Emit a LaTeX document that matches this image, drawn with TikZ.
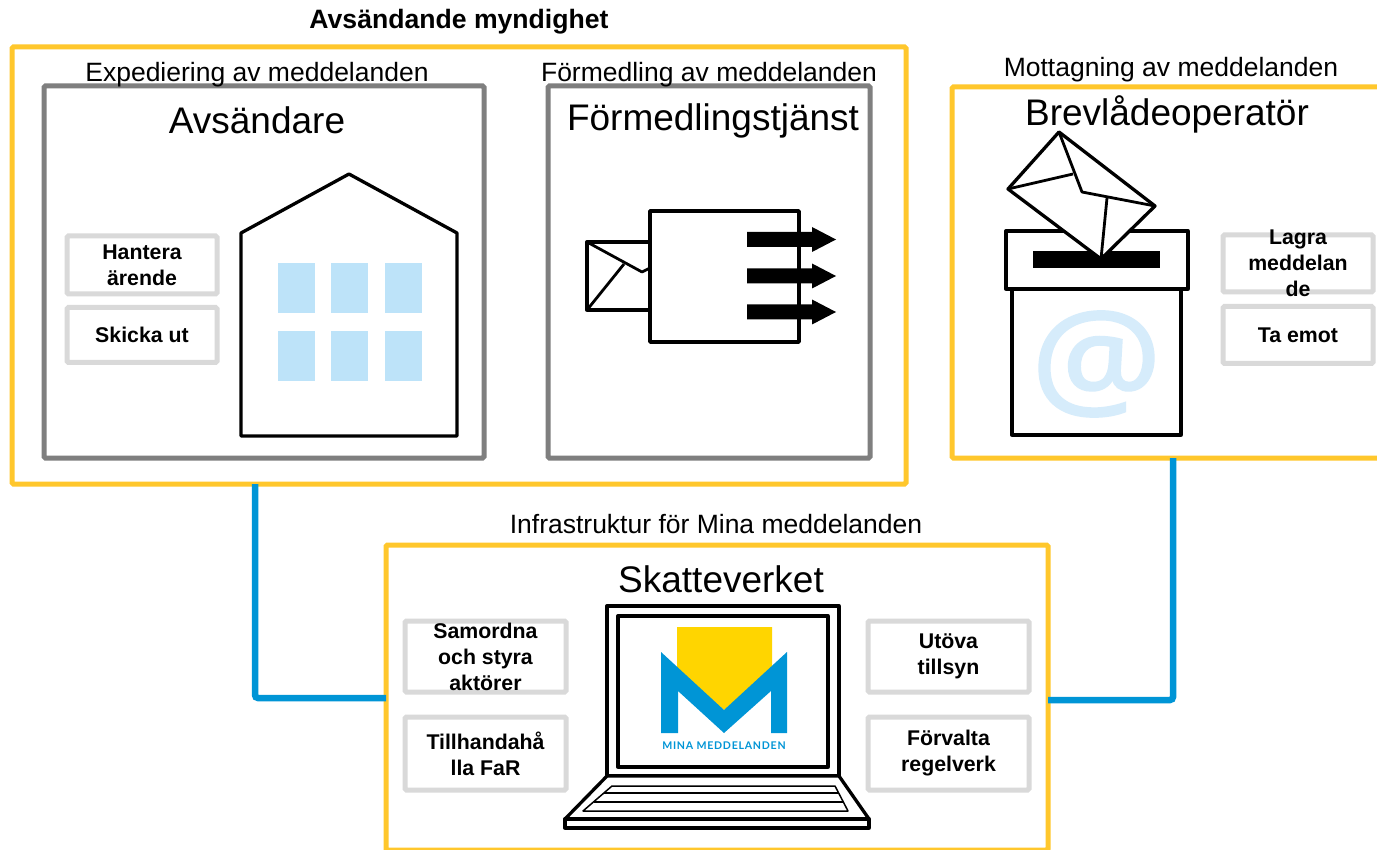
\documentclass[tikz,border=0pt]{standalone}
\usepackage{fontspec}
\setmainfont{Liberation Sans}
\newfontfamily\logofont[LetterSpace=7]{Lato}
\newfontfamily\atfont[FakeBold=1.6]{Open Sans}
\definecolor{frameY}{HTML}{FFC72C}
\definecolor{frameG}{HTML}{7F7F7F}
\definecolor{boxG}{HTML}{D9D9D9}
\definecolor{wireB}{HTML}{0095D6}
\definecolor{winB}{HTML}{BDE3F9}
\definecolor{atB}{HTML}{D6ECFB}
\definecolor{logoY}{HTML}{FFD500}
\tikzset{
  frameyellow/.style={draw=frameY,line width=5pt,rounded corners=1.5pt,inner sep=0pt},
  framegray/.style={draw=frameG,line width=5pt,rounded corners=1.5pt,inner sep=0pt},
  taskbox/.style={draw=boxG,line width=5pt,rounded corners=1.5pt,inner xsep=0pt,inner ysep=-20pt,align=center,
    font=\fontsize{21.3}{26}\selectfont\bfseries},
  wire/.style={draw=wireB,line width=6.5pt,rounded corners=3pt},
  caption/.style={inner sep=0pt,font=\fontsize{26.5}{30}\selectfont},
  heading/.style={inner sep=0pt,font=\fontsize{37}{42}\selectfont},
  ink/.style={draw=black,line width=3.3pt,line join=round,fill=white},
  thinink/.style={draw=black,line width=2pt,line join=round},
  window/.style={fill=winB},
}
\begin{document}
\begin{tikzpicture}[x=1pt,y=-1pt]
\useasboundingbox (0,0) rectangle (1377,850);
\clip (0,0) rectangle (1377,850);
\fill[white] (0,0) rectangle (1377,850);

% frames
\node[frameyellow,minimum width=894pt,minimum height=437pt] (sender) at (459,265.5) {};
\node[framegray,minimum width=440pt,minimum height=372pt] (avs) at (264,272) {};
\node[framegray,minimum width=322pt,minimum height=372pt] (form) at (709,272) {};
\node[frameyellow,minimum width=500pt,minimum height=371pt] (brev) at (1202,272.5) {};
\node[frameyellow,minimum width=662pt,minimum height=305pt] (infra) at (717,697.5) {};

% connectors
\coordinate (senderOut) at (255,484);
\coordinate (brevOut) at (1173,458);
\coordinate (infraL) at (386,698);
\coordinate (infraR) at (1048,700);
\draw[wire] (senderOut) |- (infraL);
\draw[wire] (brevOut) |- (infraR);

% captions
\node[inner sep=0pt,font=\fontsize{26.6}{30}\selectfont\bfseries] (ttl) at (459,22) {Avsändande myndighet};
\node[caption] (c1) at (257,74.5) {Expediering av meddelanden};
\node[caption] (c2) at (709,74.5) {Förmedling av meddelanden};
\node[caption] (c3) at (1171,70) {Mottagning av meddelanden};
\node[caption] (c4) at (716,524.5) {Infrastruktur för Mina meddelanden};
\node[heading] (h1) at (257,120) {Avsändare};
\node[heading] (h2) at (713,121) {Förmedlingstjänst};
\node[heading] (h3) at (1167,114) {Brevlådeoperatör};
\node[heading] (h4) at (721,579) {Skatteverket};

% task boxes
\node[taskbox,minimum width=150pt,minimum height=58pt] (t1) at (142,265) {Hantera\\ärende};
\node[taskbox,minimum width=150pt,minimum height=55pt] (t2) at (142,335) {Skicka ut};
\node[taskbox,minimum width=150pt,minimum height=57pt] (t3) at (1298,263.5) {Lagra\\meddelan\\de};
\node[taskbox,minimum width=150pt,minimum height=57pt] (t4) at (1298,335) {Ta emot};
\node[taskbox,minimum width=161pt,minimum height=71pt] (t5) at (485.5,656.5) {Samordna\\och styra\\aktörer};
\node[taskbox,minimum width=161pt,minimum height=73pt] (t6) at (485.5,753.5) {Tillhandahå\\lla FaR};
\node[taskbox,minimum width=161pt,minimum height=71pt] (t7) at (948.5,656.5) {Utöva\\tillsyn};
\node[taskbox,minimum width=161pt,minimum height=73pt] (t8) at (948.5,753.5) {Förvalta\\regelverk};

% house
\draw[ink] (241,233) -- (349,174) -- (457,233) -- (457,436) -- (241,436) -- cycle;
\foreach \wx in {278,331,385}{
  \fill[window] (\wx,263) rectangle +(37,50);
  \fill[window] (\wx,331) rectangle +(37,50);
}

% dispatcher
\draw[ink] (587,242) rectangle (655,310);
\draw[thinink,line width=2.8pt] (587,242) -- (642,272) -- (652,267);
\draw[thinink,line width=2.8pt] (587,310) -- (624,264);
\draw[ink,line width=3.8pt] (650,211) rectangle (799,342);
\foreach \ay in {239.5,276,312}{
  \fill[black] (747,\ay-7.5) -- (812,\ay-7.5) -- (812,\ay-12.5) -- (836,\ay) -- (812,\ay+12.5) -- (812,\ay+7.5) -- (747,\ay+7.5) -- cycle;
}

% mailbox
\draw[ink] (1012,289) rectangle (1181,435);
\node[inner sep=0pt,text=atB,font=\fontsize{146}{146}\atfont] (at) at (1096.5,364) {\scalebox{1}[0.9]{@}};
\draw[ink] (1006,231) rectangle (1188,289);
\fill[black] (1033,251) rectangle (1160,268);
\draw[ink] (1059,132) -- (1008,189) -- (1101,259) -- (1155,206) -- cycle;
\draw[thinink,line width=2.8pt] (1059,132) -- (1082,192) -- (1155,206);
\draw[thinink,line width=2.8pt] (1008,189) -- (1073,174);
\draw[thinink,line width=2.8pt] (1101,259) -- (1107,198);

% laptop
\draw[ink] (607,606) rectangle (839,776);
\draw[ink] (618,616) rectangle (828,767);
\draw[ink] (607,776) -- (565,819) -- (869,819) -- (839,776) -- cycle;
\draw[ink] (565,819) rectangle (869,828);
\draw[thinink,line width=1.5pt] (612,786) -- (835,786) -- (848,811) -- (583,811) -- cycle;
\draw[thinink,line width=1.5pt] (604,793) -- (839,793);
\draw[thinink,line width=1.5pt] (594,802) -- (843,802);
\fill[logoY] (677,627) -- (772,627) -- (772,670) -- (724,710) -- (677,670) -- cycle;
\fill[wireB] (661,652) -- (724,710) -- (787,652) -- (787,733) -- (771,733) -- (771,691) -- (724,733) -- (678,691) -- (678,733) -- (661,733) -- cycle;
\node[inner sep=0pt,text=wireB,font=\fontsize{10.6}{12}\logofont\bfseries] (logo) at (724,746) {MINA MEDDELANDEN};
\end{tikzpicture}
\end{document}
